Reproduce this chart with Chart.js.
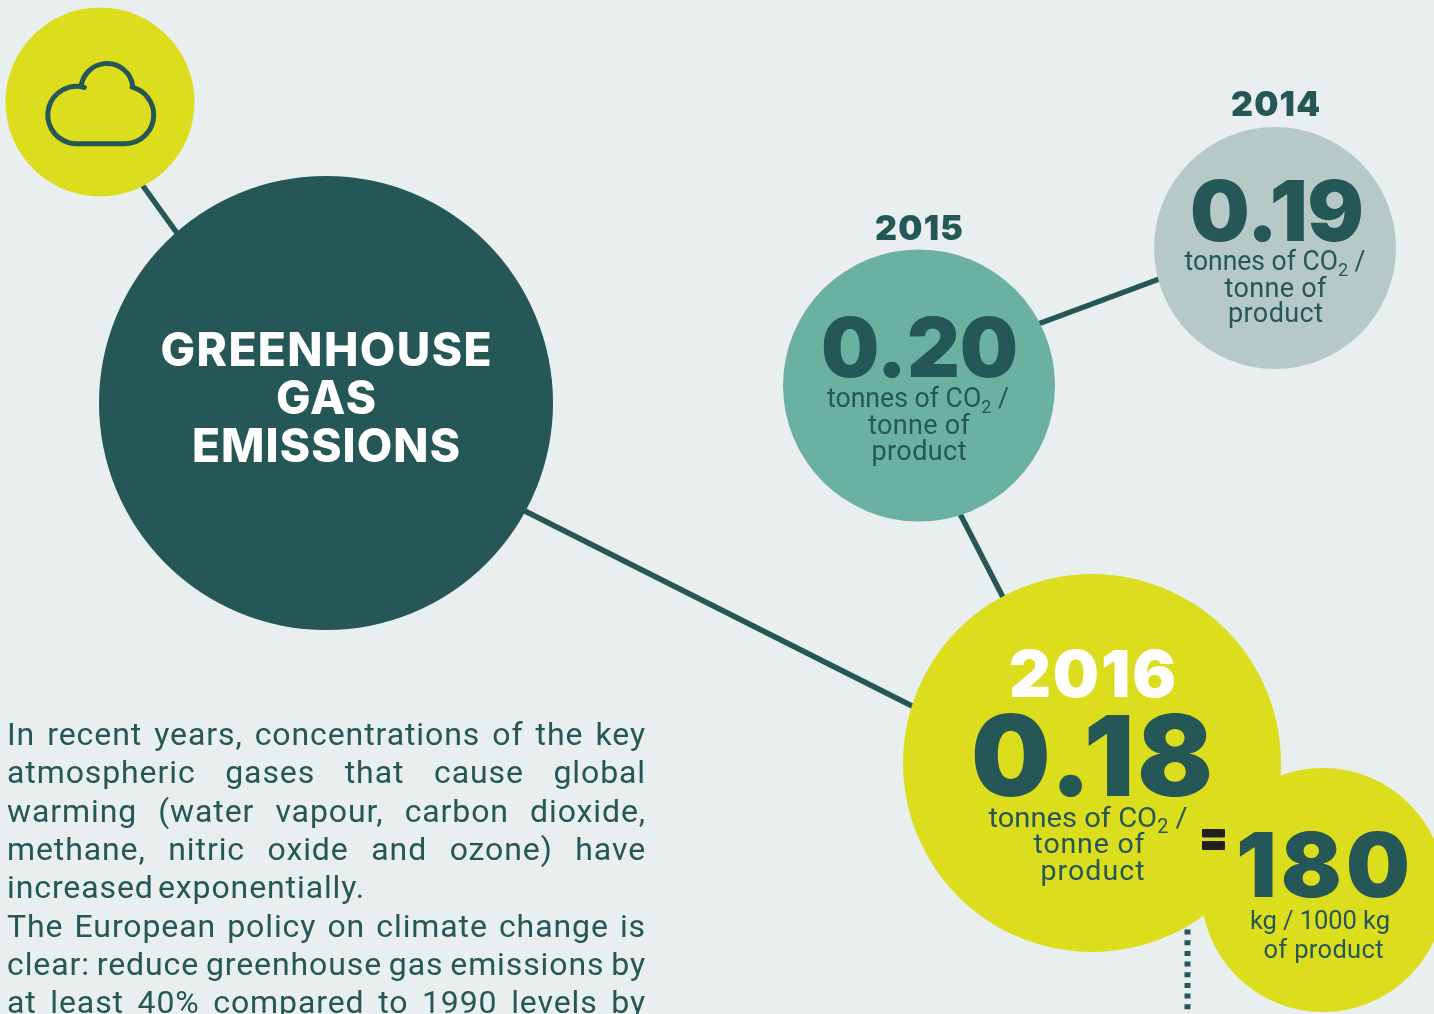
<!DOCTYPE html>
<html><head><meta charset="utf-8">
<style>html,body{margin:0;padding:0;background:#e9efef;overflow:hidden}canvas{display:block}</style>
<script src="https://cdn.jsdelivr.net/npm/chart.js@4"></script>
</head><body><canvas id="c" width="1434" height="1014"></canvas>
<script>
// data
const nodeNames = ["icon","GREENHOUSE GAS EMISSIONS","2015","2014","2016","2016 per 1000 kg"];
const nodeX = [100,326,919,1275,1092,1323];
const nodeY = [102,403,385.5,248,763,890];
const nodeR = [94.5,227,136,121,189,122];
const nodeColors = ["#dcdd1c","#255757","#6ab1a1","#b7c9c7","#dcdd1c","#dcdd1c"];
const linkX = [[138,182],[513,924],[956,1008],[1030,1170]];
const linkY = [[179,240],[505,712],[506,607],[327,275]];
const dottedX = [1187.5,1187.5];
const dottedY = [908.2,1014];
const years = ["2014","2015","2016"];
const values = ["0.19","0.20","0.18"];
const perThousand = "180";
const titleLines = ["GREENHOUSE","GAS","EMISSIONS"];
const unitLines = ["tonne of","product"];
const perLines = ["kg / 1000 kg","of product"];
const bodyLines = [
 "In recent years, concentrations of the key",
 "atmospheric gases that cause global",
 "warming (water vapour, carbon dioxide,",
 "methane, nitric oxide and ozone) have",
 "increased exponentially.",
 "The European policy on climate change is",
 "clear: reduce greenhouse gas emissions by",
 "at least 40% compared to 1990 levels by"];
const bodyJustified = [true,true,true,true,false,true,true,true];

const DARK="#255757", HEAVY='Inter', LIGHT='Roboto';

function fit(ctx,text,cx,y,font,w,color){
  ctx.font=font; ctx.fillStyle=color; ctx.textAlign='left'; ctx.textBaseline='alphabetic';
  ctx.letterSpacing='0px';
  const m=ctx.measureText(text).width;
  const ls=(w-m)/Math.max(1,text.length-1);
  ctx.letterSpacing=ls+'px';
  ctx.fillText(text,cx-w/2,y);
  ctx.letterSpacing='0px';
}
function unit(ctx,cx,y,size,w){
  const f=`400 ${size}px ${LIGHT}`, s=`400 ${size*0.68}px ${LIGHT}`;
  ctx.textAlign='left';ctx.textBaseline='alphabetic';ctx.fillStyle=DARK;
  ctx.font=f; const a=ctx.measureText("tonnes of CO").width, c=ctx.measureText(" /").width;
  ctx.font=s; const b=ctx.measureText("2").width;
  const k=w/(a+b+c); 
  ctx.save();ctx.translate(cx-w/2,y);ctx.scale(k,1);
  ctx.font=f;ctx.fillText("tonnes of CO",0,0);
  ctx.font=s;ctx.fillText("2",a,size*0.22);
  ctx.font=f;ctx.fillText(" /",a+b,0);
  ctx.restore();
}
const texts={id:'texts',afterDatasetsDraw(chart){
  const ctx=chart.ctx, X=chart.scales.x, Y=chart.scales.y;
  const px=i=>X.getPixelForValue(nodeX[i]), py=i=>Y.getPixelForValue(nodeY[i]);
  ctx.save();
  // cloud icon
  const ox=px(0),oy=py(0);
  ctx.strokeStyle=DARK;ctx.lineWidth=5;ctx.lineJoin='round';
  ctx.beginPath();
  ctx.moveTo(ox-23.5,oy+41.7);
  ctx.lineTo(ox+25,oy+41.7);
  ctx.arc(ox+25,oy+13,28.7,Math.PI/2,-Math.PI*0.42,true);
  ctx.arc(ox+7,oy-12.5,26,-0.1,Math.PI+0.1,true);
  ctx.arc(ox-23.5,oy+13,28.7,-Math.PI*0.41,Math.PI/2,true);
  ctx.closePath();ctx.stroke();
  // title
  const tw=[331,100,268], ty=[366,414,462];
  titleLines.forEach((t,i)=>fit(ctx,t,px(1),ty[i],`800 46px ${HEAVY}`,tw[i],'#ffffff'));
  // 2014
  fit(ctx,years[0],1275.5,116,`900 34px ${HEAVY}`,89,DARK);
  fit(ctx,values[0],1277,240.5,`900 84px ${HEAVY}`,174,DARK);
  unit(ctx,1275,270,27,181);
  fit(ctx,unitLines[0],1275.5,297,`400 27px ${LIGHT}`,102,DARK);
  fit(ctx,unitLines[1],1275.5,322,`400 27px ${LIGHT}`,95,DARK);
  // 2015
  fit(ctx,years[1],919,240,`900 34px ${HEAVY}`,88,DARK);
  fit(ctx,values[1],919.5,376.5,`900 82px ${HEAVY}`,197,DARK);
  unit(ctx,918,407,27,182);
  fit(ctx,unitLines[0],919,434,`400 27px ${LIGHT}`,102,DARK);
  fit(ctx,unitLines[1],919,460,`400 27px ${LIGHT}`,95,DARK);
  // 2016
  fit(ctx,years[2],1092.5,697,`900 65px ${HEAVY}`,167,'#ffffff');
  fit(ctx,values[2],1092,795.5,`900 112px ${HEAVY}`,242,DARK);
  unit(ctx,1088,827,28.5,199);
  fit(ctx,unitLines[0],1089,853,`400 28.5px ${LIGHT}`,111,DARK);
  fit(ctx,unitLines[1],1092.5,880,`400 28.5px ${LIGHT}`,104,DARK);
  // equals
  ctx.fillStyle='#231f20';
  ctx.beginPath();ctx.roundRect(1202,829,23,8.5,1);ctx.roundRect(1202,841,23,9,1);ctx.fill();
  // 180
  fit(ctx,perThousand,1323,897,`900 90px ${HEAVY}`,174,DARK);
  fit(ctx,perLines[0],1320,929,`400 25.5px ${LIGHT}`,140,DARK);
  fit(ctx,perLines[1],1323.5,958,`400 25.5px ${LIGHT}`,120,DARK);
  // body
  const by=[745,783,822,860,898,937,975,1013];
  ctx.fillStyle=DARK;ctx.textAlign='left';ctx.font=`400 32px ${LIGHT}`;
  ctx.letterSpacing='0.9px';
  bodyLines.forEach((t,i)=>{
    ctx.wordSpacing='0px';
    const target=bodyJustified[i]?639:358;
    const m=ctx.measureText(t).width, gaps=t.split(' ').length-1;
    ctx.wordSpacing=(target-m)/gaps+'px';
    ctx.fillText(t,7,by[i]);
  });
  ctx.wordSpacing='0px';ctx.letterSpacing='0px';
  ctx.restore();
}};

const lineSets=linkX.map((xs,k)=>({
  type:'line',
  data:xs.map((x,i)=>({x,y:linkY[k][i]})),
  borderColor:DARK,borderWidth:5.5,pointRadius:0,order:3,borderCapStyle:'butt'
}));
new Chart(document.getElementById('c'),{
  type:'bubble',
  data:{datasets:[
    {type:'bubble',label:'nodes',order:1,
     data:nodeX.map((x,i)=>({x,y:nodeY[i],r:nodeR[i]})),
     backgroundColor:nodeColors,borderWidth:0,hoverRadius:0},
    ...lineSets,
    {type:'line',order:2,data:dottedX.map((x,i)=>({x,y:dottedY[i]})),
     borderColor:DARK,borderWidth:6,borderDash:[5,5.67],pointRadius:0}
  ]},
  options:{responsive:false,animation:false,events:[],clip:false,
    layout:{padding:0,autoPadding:false},
    plugins:{legend:{display:false},tooltip:{enabled:false}},
    scales:{
      x:{type:'linear',min:0,max:1434,display:false},
      y:{type:'linear',min:0,max:1014,reverse:true,display:false}
    }},
  plugins:[{id:'bg',beforeDraw(c){c.ctx.fillStyle='#e9efef';c.ctx.fillRect(0,0,c.width,c.height);}},texts]
});
</script></body></html>
